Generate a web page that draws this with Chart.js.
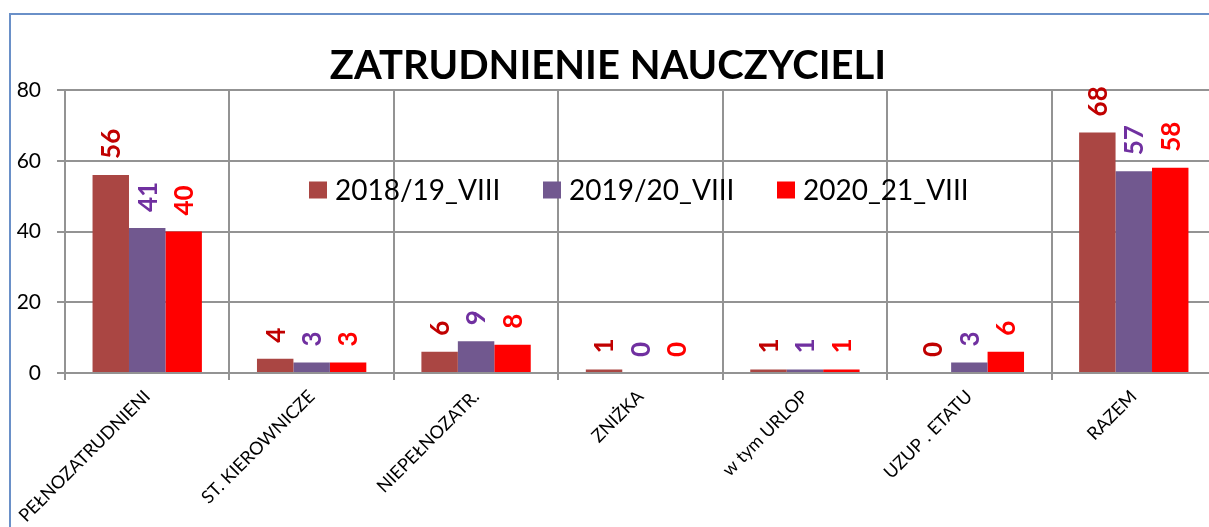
<!DOCTYPE html>
<html>
<head>
<meta charset="utf-8">
<script src="https://cdn.jsdelivr.net/npm/chart.js@4"></script>
<style>
  html, body { margin: 0; padding: 0; background: #fff; overflow: hidden; }
  #wrap { position: relative; width: 1209px; height: 527px; overflow: hidden; }
  #frame { position: absolute; left: 9px; top: 13px; width: 1400px; height: 700px; border: 2px solid #6a90c8; box-sizing: border-box; }
  #chart { position: absolute; left: 0; top: 0; }
</style>
</head>
<body>
<div id="wrap">
  <div id="frame"></div>
  <canvas id="chart" width="1222" height="527"></canvas>
</div>
<script>
const categories = ['PEŁNOZATRUDNIENI', 'ST. KIEROWNICZE', 'NIEPEŁNOZATR.', 'ZNIŻKA', 'w tym URLOP', 'UZUP . ETATU', 'RAZEM'];
const seriesNames = ['2018/19_VIII', '2019/20_VIII', '2020_21_VIII'];
const values2018 = [56, 4, 6, 1, 1, 0, 68];
const values2019 = [41, 3, 9, 0, 1, 3, 57];
const values2020 = [40, 3, 8, 0, 1, 6, 58];
const yTicks = [0, 20, 40, 60, 80];

const barColors = ['#aa4643', '#71588f', '#ff0000'];
const labelColors = ['#c00000', '#7030a0', '#ff0000'];
const FONT = 'Lato, "Open Sans", sans-serif';

// rotated value labels above each bar
const valueLabels = {
    id: 'valueLabels',
    afterDatasetsDraw(chart) {
        const ctx = chart.ctx;
        ctx.save();
        ctx.font = 'bold 26px ' + FONT;
        ctx.textAlign = 'left';
        ctx.textBaseline = 'middle';
        chart.data.datasets.forEach((ds, i) => {
            const meta = chart.getDatasetMeta(i);
            ctx.fillStyle = labelColors[i];
            meta.data.forEach((bar, j) => {
                ctx.save();
                ctx.translate(bar.x, bar.y - 16);
                ctx.rotate(-Math.PI / 2);
                ctx.fillText(String(ds.data[j]), 0, 1);
                ctx.restore();
            });
        });
        ctx.restore();
    }
};

// legend sitting inside the plot area, like the original
const innerLegend = {
    id: 'innerLegend',
    afterDatasetsDraw(chart) {
        const ctx = chart.ctx;
        const area = chart.chartArea;
        const y = area.top + 100;
        ctx.save();
        ctx.font = '28px ' + FONT;
        ctx.textBaseline = 'middle';
        ctx.textAlign = 'left';
        chart.data.datasets.forEach((ds, i) => {
            const x = area.left + 244 + i * 234;
            ctx.fillStyle = ds.backgroundColor;
            ctx.fillRect(x, y - 8.5, 18, 17);
            ctx.fillStyle = '#000';
            ctx.fillText(ds.label, x + 26, y + 1);
        });
        ctx.restore();
    }
};

new Chart(document.getElementById('chart'), {
    type: 'bar',
    data: {
        labels: categories,
        datasets: [
            { label: seriesNames[0], data: values2018, backgroundColor: barColors[0] },
            { label: seriesNames[1], data: values2019, backgroundColor: barColors[1] },
            { label: seriesNames[2], data: values2020, backgroundColor: barColors[2] }
        ]
    },
    options: {
        responsive: false,
        animation: false,
        devicePixelRatio: 1,
        categoryPercentage: 0.665,
        barPercentage: 1,
        layout: { padding: { left: 0, right: 6, top: 0, bottom: 0 } },
        plugins: {
            legend: { display: false },
            tooltip: { enabled: false },
            title: {
                display: true,
                text: 'ZATRUDNIENIE NAUCZYCIELI',
                color: '#000',
                font: { family: FONT, size: 40, weight: 'bold' },
                padding: { top: 42, bottom: 0 }
            }
        },
        scales: {
            x: {
                grid: { offset: true, color: '#939393', lineWidth: 2, tickLength: 7 },
                border: { color: '#939393', width: 2 },
                ticks: { color: '#000', font: { family: FONT, size: 18 }, minRotation: 45, maxRotation: 45, padding: 6 },
                afterFit(scale) { scale.height = 154; }
            },
            y: {
                min: 0, max: 80,
                afterBuildTicks(scale) { scale.ticks = yTicks.map(v => ({ value: v })); },
                grid: { color: '#939393', lineWidth: 2, tickLength: 8 },
                border: { color: '#939393', width: 2 },
                ticks: { color: '#000', font: { family: FONT, size: 21 }, padding: 16 },
                afterFit(scale) { scale.width = 65; }
            }
        }
    },
    plugins: [valueLabels, innerLegend]
});
</script>
</body>
</html>
